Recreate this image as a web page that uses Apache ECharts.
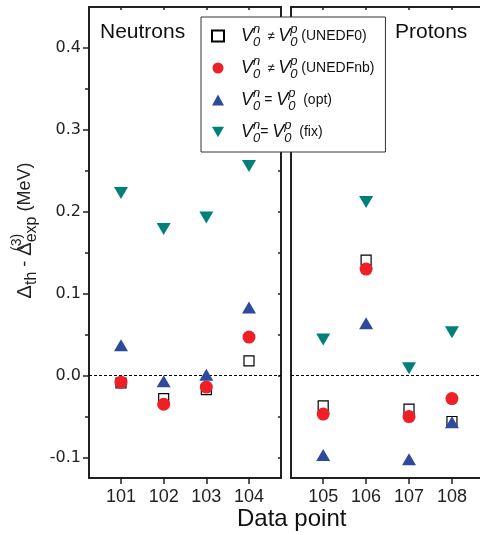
<!DOCTYPE html>
<html>
<head>
<meta charset="utf-8">
<script src="https://cdn.jsdelivr.net/npm/echarts@6/dist/echarts.min.js"></script>
<style>
  html, body { margin: 0; padding: 0; background: #fff; }
  #chart { width: 480px; height: 535px; }
</style>
</head>
<body>
<div id="chart"></div>
<script>
// data points on x axis
const neutronPts = [101, 102, 103, 104];
const protonPts = [105, 106, 107, 108];

// Delta_th - Delta_exp (MeV)
const unedf0N = [-0.009, -0.028, -0.017, 0.018];
const unedfnbN = [-0.008, -0.035, -0.014, 0.047];
const optN = [0.037, -0.007, 0.001, 0.083];
const fixN = [0.223, 0.179, 0.193, 0.256];

const unedf0P = [-0.037, 0.141, -0.041, -0.056];
const unedfnbP = [-0.047, 0.130, -0.050, -0.028];
const optP = [-0.097, 0.064, -0.102, -0.057];
const fixP = [0.044, 0.212, 0.009, 0.053];

const yMajor = [-0.1, 0, 0.1, 0.2, 0.3, 0.4];
const yMinor = [-0.05, 0.05, 0.15, 0.25, 0.35];
const yAll = [-0.1, -0.05, 0, 0.05, 0.1, 0.15, 0.2, 0.25, 0.3, 0.35, 0.4];

const names = ['UNEDF0', 'UNEDFnb', 'opt', 'fix'];

const AX = '#231f20';
const FONT = 'Liberation Sans';
const YMIN = -0.125, YMAX = 0.45;

function pairs(xs, ys) {
  return xs.map((x, i) => [x, ys[i]]);
}

const downTri = 'path://M0,0L10,0L5,8.66Z';

const styles = {
  UNEDF0: { symbol: 'rect', symbolSize: 10, itemStyle: { color: '#fff', borderColor: '#000', borderWidth: 1.2, opacity: 1 } },
  UNEDFnb: { symbol: 'circle', symbolSize: 13, itemStyle: { color: '#ee1f26', opacity: 1 } },
  opt: { symbol: 'triangle', symbolSize: [14, 12], itemStyle: { color: '#2e4a9c', opacity: 1 } },
  fix: { symbol: downTri, symbolSize: [14, 12], itemStyle: { color: '#007f7b', opacity: 1 } }
};

function makeSeries(name, xs, ys, gi) {
  return Object.assign({
    name: name,
    type: 'scatter',
    xAxisIndex: gi * 2,
    yAxisIndex: gi * 3,
    data: pairs(xs, ys),
    z: 3
  }, styles[name]);
}

const series = [
  makeSeries('UNEDF0', neutronPts, unedf0N, 0),
  makeSeries('UNEDFnb', neutronPts, unedfnbN, 0),
  makeSeries('opt', neutronPts, optN, 0),
  makeSeries('fix', neutronPts, fixN, 0),
  makeSeries('UNEDF0', protonPts, unedf0P, 1),
  makeSeries('UNEDFnb', protonPts, unedfnbP, 1),
  makeSeries('opt', protonPts, optP, 1),
  makeSeries('fix', protonPts, fixP, 1)
];

// dotted zero lines
[0, 4].forEach(i => {
  series[i].markLine = {
    silent: true,
    symbol: 'none',
    label: { show: false },
    lineStyle: { color: '#000', type: [3, 2], width: 1 },
    data: [{ yAxis: 0 }],
    z: 1
  };
});

function xAxes(gi, min, max, ticks) {
  return [
    {
      type: 'value', gridIndex: gi, min: min, max: max, position: 'bottom',
      axisLine: { onZero: false, lineStyle: { color: AX, width: 2 } },
      axisTick: { customValues: ticks, length: 6, lineStyle: { color: AX, width: 1.5 } },
      axisLabel: { customValues: ticks, color: '#222', fontSize: 18, fontFamily: FONT, margin: 10 },
      splitLine: { show: false }
    },
    {
      type: 'value', gridIndex: gi, min: min, max: max, position: 'top',
      axisLine: { onZero: false, lineStyle: { color: AX, width: 2 } },
      axisTick: { customValues: ticks, inside: true, length: 3, lineStyle: { color: AX, width: 1.5 } },
      axisLabel: { show: false },
      splitLine: { show: false }
    }
  ];
}

function yAxes(gi, showLabels) {
  return [
    {
      type: 'value', gridIndex: gi, min: YMIN, max: YMAX, position: 'left',
      name: showLabels ? '{d|\u0394}{sub|th}{t| - }{d|\u0394}{sup|(3)}{sub|exp}{t| (MeV)}' : '',
      nameLocation: 'middle', nameGap: 49,
      nameTextStyle: {
        color: '#222', fontFamily: FONT, padding: [0, 0, 0, 24],
        rich: {
          d: { fontSize: 20, fontFamily: FONT, color: '#222', lineHeight: 30 },
          t: { fontSize: 18, fontFamily: FONT, color: '#222', lineHeight: 30 },
          sub: { fontSize: 16, fontFamily: FONT, color: '#222', lineHeight: 15, verticalAlign: 'bottom' },
          sup: { fontSize: 14, fontFamily: FONT, color: '#222', lineHeight: 15, verticalAlign: 'top', width: 0 }
        }
      },
      axisLine: { show: true, onZero: false, lineStyle: { color: AX, width: 2 } },
      axisTick: { show: showLabels, customValues: yMajor, length: 6, lineStyle: { color: AX, width: 1.5 } },
      axisLabel: {
        show: showLabels, customValues: yMajor, color: '#222', fontSize: 16,
        fontFamily: 'DejaVu Sans', margin: 8,
        formatter: v => v.toFixed(1)
      },
      splitLine: { show: false }
    },
    {
      type: 'value', gridIndex: gi, min: YMIN, max: YMAX, position: 'left',
      axisLine: { show: false, onZero: false },
      axisTick: { show: showLabels, customValues: yMinor, length: 4, lineStyle: { color: AX, width: 1.5 } },
      axisLabel: { show: false },
      splitLine: { show: false }
    },
    {
      // right frame: only the neutron panel shows it, protons run off the edge
      type: 'value', gridIndex: gi, min: YMIN, max: YMAX, position: 'right',
      axisLine: { show: showLabels, onZero: false, lineStyle: { color: AX, width: 2 } },
      axisTick: { show: showLabels, customValues: yAll, inside: true, length: 3, lineStyle: { color: AX, width: 1.5 } },
      axisLabel: { show: false },
      splitLine: { show: false }
    }
  ];
}

const legendRich = {
  v: { fontSize: 18, fontStyle: 'italic', fontFamily: FONT, color: '#111', lineHeight: 26 },
  t: { fontSize: 14, fontFamily: FONT, color: '#111', lineHeight: 26 },
  op: { fontSize: 13, fontFamily: FONT, color: '#111', lineHeight: 26 },
  sup: { fontSize: 13, fontStyle: 'italic', fontFamily: FONT, color: '#111', lineHeight: 13, verticalAlign: 'top', width: 0 },
  sub: { fontSize: 13, fontStyle: 'italic', fontFamily: FONT, color: '#111', lineHeight: 13, verticalAlign: 'bottom' }
};

const legendText = {
  UNEDF0: '{v|V}{sup|n}{sub|0}{op|  \u2260 }{v|V}{sup|p}{sub|0}{t| (UNEDF0)}',
  UNEDFnb: '{v|V}{sup|n}{sub|0}{op|  \u2260 }{v|V}{sup|p}{sub|0}{t| (UNEDFnb)}',
  opt: '{v|V}{sup|n}{sub|0}{t| = }{v|V}{sup|p}{sub|0}{t|  (opt)}',
  fix: '{v|V}{sup|n}{sub|0}{t|= }{v|V}{sup|p}{sub|0}{t|  (fix)}'
};

const chart = echarts.init(document.getElementById('chart'), null, { renderer: 'canvas' });

chart.setOption({
  animation: false,
  backgroundColor: '#fff',
  title: [
    { text: 'Neutrons', left: 100, top: 22, padding: 0, textStyle: { fontSize: 21, fontWeight: 'normal', fontFamily: FONT, color: '#111' } },
    { text: 'Protons', left: 395, top: 22, padding: 0, textStyle: { fontSize: 21, fontWeight: 'normal', fontFamily: FONT, color: '#111' } },
    { text: 'Data point', left: 237, top: 507, padding: 0, textStyle: { fontSize: 24, fontWeight: 'normal', fontFamily: FONT, color: '#111' } }
  ],
  grid: [
    { left: 89, top: 7, width: 192, height: 471, outerBoundsMode: 'none' },
    { left: 291, top: 7, width: 200, height: 471, outerBoundsMode: 'none' }
  ],
  xAxis: [].concat(xAxes(0, 100.25, 104.75, neutronPts), xAxes(1, 104.25, 108.91, protonPts)),
  yAxis: [].concat(yAxes(0, true), yAxes(1, false)),
  legend: {
    orient: 'vertical',
    left: 201, top: 17,
    padding: [6, 11, 7, 10],
    itemGap: 6,
    itemWidth: 12, itemHeight: 11,
    backgroundColor: '#fff',
    borderColor: '#333', borderWidth: 1, borderRadius: 0,
    data: names,
    formatter: n => legendText[n],
    textStyle: { rich: legendRich, padding: [0, 0, 0, 12] },
    z: 10
  },
  series: series
});
</script>
</body>
</html>
